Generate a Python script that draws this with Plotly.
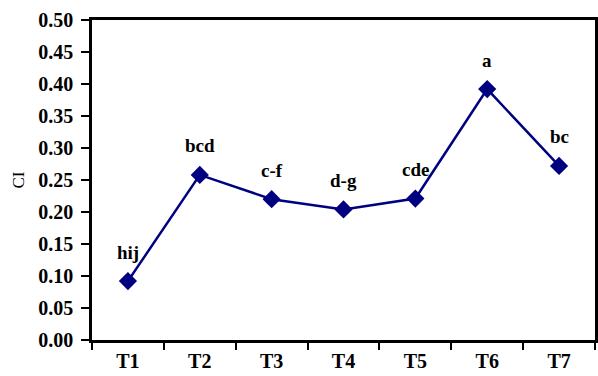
import plotly.graph_objects as go

categories = ["T1", "T2", "T3", "T4", "T5", "T6", "T7"]
ci_values = [0.092, 0.258, 0.220, 0.204, 0.221, 0.392, 0.272]
letters = ["hij", "bcd", "c-f", "d-g", "cde", "a", "bc"]
y_ticks = [0.00, 0.05, 0.10, 0.15, 0.20, 0.25, 0.30, 0.35, 0.40, 0.45, 0.50]

font_family = "Liberation Serif"
navy = "#000080"

fig = go.Figure()
fig.add_trace(go.Scatter(
    x=categories, y=ci_values, mode="lines+markers",
    line=dict(color=navy, width=2.5),
    marker=dict(symbol="diamond", size=14, color=navy),
    showlegend=False,
))

for c, v, t in zip(categories, ci_values, letters):
    fig.add_annotation(x=c, y=v, text=f"<b>{t}</b>", showarrow=False,
                       yshift=29, font=dict(family=font_family, size=19, color="black"))

fig.update_layout(
    width=598, height=376,
    margin=dict(l=92, r=0, t=20, b=36),
    plot_bgcolor="white", paper_bgcolor="white",
    font=dict(family=font_family, color="black"),
    xaxis=dict(
        type="category", range=[-0.5, 6.5],
        showline=True, linecolor="black", linewidth=2.5, mirror=True,
        ticks="outside", tickson="boundaries", ticklen=7, tickwidth=2, tickcolor="black",
        tickfont=dict(family=font_family, size=20, color="black"),
        tickvals=categories, ticktext=[f"<b>{c}</b>" for c in categories],
        ticklabelstandoff=1,
        showgrid=False, zeroline=False,
    ),
    yaxis=dict(
        range=[0, 0.5],
        showline=True, linecolor="black", linewidth=2.5, mirror=True,
        ticks="outside", ticklen=8, tickwidth=2, tickcolor="black",
        tickvals=y_ticks, ticktext=[f"<b>{v:.2f}</b>" for v in y_ticks],
        tickfont=dict(family=font_family, size=20, color="black"),
        ticklabelstandoff=4,
        showgrid=False, zeroline=False,
        title=dict(text="CI", font=dict(family=font_family, size=17, color="black"), standoff=10),
    ),
)

fig.write_html("out.html")
